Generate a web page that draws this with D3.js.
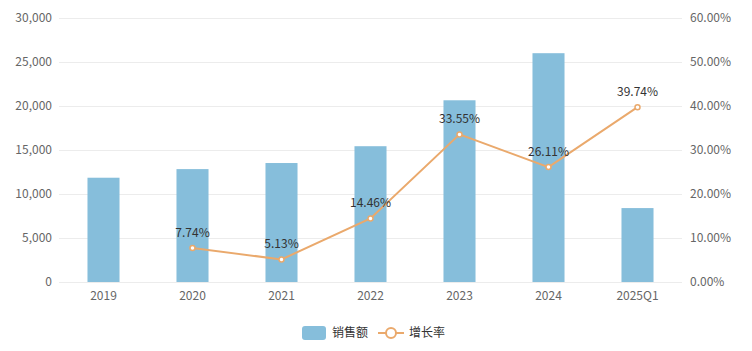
<!DOCTYPE html>
<meta charset="utf-8">
<script src="https://d3js.org/d3.v7.min.js"></script>
<style>
  body { margin: 0; background: #fff; }
  svg text { font-family: "Noto Sans CJK SC", "Noto Sans", sans-serif; }
  .grid line { stroke: #ececec; }
  .axis text { fill: #666; font-size: 12px; }
</style>
<div id="chart"></div>
<script>
// data
const years = ["2019", "2020", "2021", "2022", "2023", "2024", "2025Q1"];
const sales = [11850, 12830, 13520, 15430, 20650, 26000, 8400];
const growth = [null, 7.74, 5.13, 14.46, 33.55, 26.11, 39.74];
const leftTicks = [0, 5000, 10000, 15000, 20000, 25000, 30000];
const rightTicks = [0, 10, 20, 30, 40, 50, 60];

const W = 752, H = 351;
const margin = {top: 18, right: 70, bottom: 69, left: 59};

const svg = d3.select("#chart").append("svg")
    .attr("width", W).attr("height", H);

const x = d3.scaleBand().domain(years)
    .range([margin.left, W - margin.right]).paddingInner(0.64).paddingOuter(0.32);
const y = d3.scaleLinear().domain([0, 30000]).range([H - margin.bottom, margin.top]);
const y2 = d3.scaleLinear().domain([0, 60]).range([H - margin.bottom, margin.top]);

// grid
svg.append("g").attr("class", "grid")
  .selectAll("line").data(leftTicks).join("line")
    .attr("x1", margin.left).attr("x2", W - margin.right)
    .attr("y1", d => y(d) + 0.5).attr("y2", d => y(d) + 0.5);

// left axis
svg.append("g").attr("class", "axis")
  .selectAll("text").data(leftTicks).join("text")
    .attr("x", 52).attr("y", d => y(d)).attr("dy", "0.35em")
    .attr("text-anchor", "end")
    .text(d => d3.format(",")(d));

// right axis
svg.append("g").attr("class", "axis")
  .selectAll("text").data(rightTicks).join("text")
    .attr("x", 690).attr("y", d => y2(d)).attr("dy", "0.35em")
    .text(d => d.toFixed(2) + "%");

// x labels
svg.append("g").attr("class", "axis")
  .selectAll("text").data(years).join("text")
    .attr("x", d => x(d) + x.bandwidth() / 2).attr("y", 300)
    .attr("text-anchor", "middle")
    .text(d => d);

// bars
svg.append("g").selectAll("rect").data(years).join("rect")
    .attr("x", d => x(d)).attr("width", x.bandwidth())
    .attr("y", (d, i) => y(sales[i]))
    .attr("height", (d, i) => y(0) - y(sales[i]))
    .attr("fill", "#86bedb");

// line
const pts = years.map((d, i) => ({year: d, v: growth[i]})).filter(d => d.v != null);
const cx = d => x(d.year) + x.bandwidth() / 2;

svg.append("path").datum(pts)
    .attr("fill", "none").attr("stroke", "#eaa96c").attr("stroke-width", 2)
    .attr("d", d3.line().x(cx).y(d => y2(d.v)));

svg.append("g").selectAll("circle").data(pts).join("circle")
    .attr("cx", cx).attr("cy", d => y2(d.v)).attr("r", 2.5)
    .attr("fill", "#fff").attr("stroke", "#eaa96c").attr("stroke-width", 1.5);

svg.append("g").selectAll("text").data(pts).join("text")
    .attr("x", cx).attr("y", d => y2(d.v) - 11)
    .attr("text-anchor", "middle")
    .attr("fill", "#333").attr("font-size", 12)
    .text(d => d.v.toFixed(2) + "%");

// legend
const lg = svg.append("g");
lg.append("rect").attr("x", 302).attr("y", 326).attr("width", 24).attr("height", 14)
    .attr("rx", 3).attr("fill", "#86bedb");
lg.append("text").attr("x", 332).attr("y", 333).attr("dy", "0.35em")
    .attr("fill", "#333").attr("font-size", 12).text("销售额");
lg.append("line").attr("x1", 378).attr("x2", 404).attr("y1", 333).attr("y2", 333)
    .attr("stroke", "#eaa96c").attr("stroke-width", 2);
lg.append("circle").attr("cx", 391).attr("cy", 333).attr("r", 5)
    .attr("fill", "#fff").attr("stroke", "#eaa96c").attr("stroke-width", 2);
lg.append("text").attr("x", 409).attr("y", 333).attr("dy", "0.35em")
    .attr("fill", "#333").attr("font-size", 12).text("增长率");
</script>
